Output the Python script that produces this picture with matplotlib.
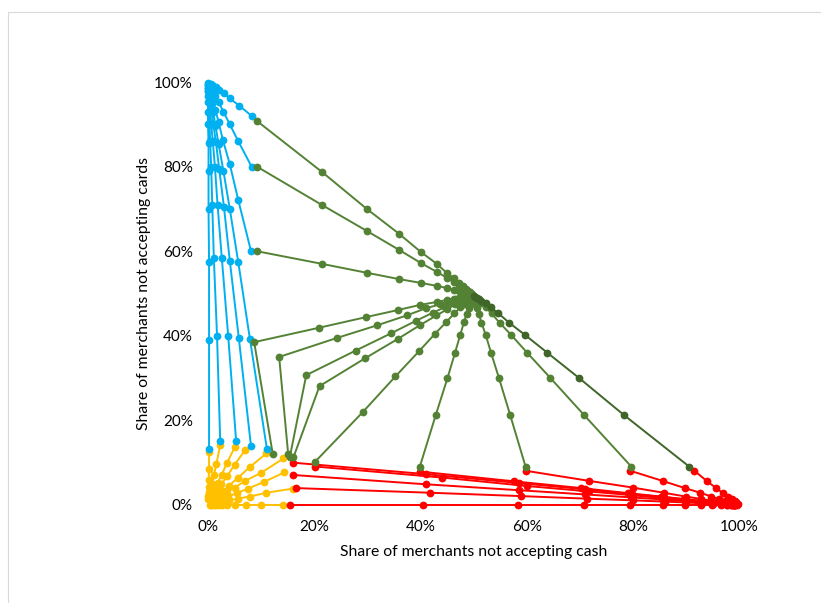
import matplotlib
matplotlib.use("Agg")
import matplotlib.pyplot as plt
from matplotlib.patches import Rectangle
from matplotlib.ticker import PercentFormatter

# ---------------- data: trajectories (x = share not accepting cash, y = share not accepting cards)
blue_paths = [
    [(0.002,0.132),(0.002,0.39),(0.002,0.574),(0.001,0.70),(0.001,0.79),(0.001,0.856),(0.0,0.90),(0.0,0.93),(0.0,0.952),(0.0,0.967),(0.0,0.978),(0.0,0.986),(0.0,0.993),(0.0,0.998)],
    [(0.023,0.151),(0.017,0.40),(0.011,0.584),(0.008,0.71),(0.006,0.80),(0.004,0.86),(0.003,0.90),(0.002,0.93),(0.001,0.952),(0.001,0.967),(0.0,0.978),(0.0,0.986),(0.0,0.993)],
    [(0.053,0.151),(0.038,0.40),(0.026,0.584),(0.018,0.71),(0.013,0.80),(0.009,0.86),(0.006,0.90),(0.004,0.93),(0.003,0.952),(0.002,0.967),(0.001,0.978),(0.001,0.986)],
    [(0.081,0.139),(0.058,0.395),(0.041,0.578),(0.030,0.705),(0.021,0.795),(0.015,0.857),(0.010,0.90),(0.007,0.93),(0.005,0.952),(0.003,0.967),(0.002,0.978),(0.001,0.986)],
    [(0.111,0.132),(0.079,0.392),(0.057,0.574),(0.041,0.70),(0.029,0.79),(0.020,0.853),(0.014,0.897),(0.010,0.928),(0.007,0.95),(0.005,0.965),(0.003,0.976),(0.002,0.984)],
    [(0.081,0.60),(0.057,0.721),(0.041,0.806),(0.028,0.863),(0.020,0.905),(0.014,0.934),(0.010,0.953),(0.007,0.967),(0.005,0.977),(0.003,0.984)],
    [(0.082,0.80),(0.057,0.86),(0.041,0.90),(0.029,0.93),(0.020,0.952),(0.014,0.966),(0.010,0.976),(0.007,0.983),(0.005,0.988)],
    [(0.082,0.92),(0.059,0.944),(0.041,0.961),(0.030,0.973),(0.021,0.981),(0.015,0.987),(0.010,0.991),(0.007,0.994),(0.005,0.996)],
]

yellow_paths = [
    [(0.142,0.0),(0.10,0.0),(0.072,0.0),(0.051,0.0),(0.036,0.0),(0.026,0.0),(0.018,0.0),(0.013,0.0),(0.009,0.0),(0.006,0.0),(0.004,0.0)],
    [(0.161,0.039),(0.11,0.029),(0.079,0.02),(0.056,0.015),(0.04,0.011),(0.028,0.008),(0.02,0.006),(0.014,0.004),(0.01,0.003),(0.007,0.002)],
    [(0.144,0.077),(0.106,0.055),(0.076,0.039),(0.054,0.028),(0.038,0.02),(0.027,0.014),(0.019,0.01),(0.013,0.007),(0.009,0.005)],
    [(0.142,0.11),(0.10,0.076),(0.07,0.057),(0.05,0.041),(0.035,0.029),(0.025,0.021),(0.017,0.015),(0.012,0.01),(0.008,0.007)],
    [(0.11,0.122),(0.079,0.09),(0.056,0.064),(0.04,0.046),(0.028,0.033),(0.02,0.023),(0.014,0.016),(0.01,0.012)],
    [(0.07,0.13),(0.05,0.095),(0.036,0.068),(0.025,0.049),(0.018,0.035),(0.013,0.025),(0.009,0.018)],
    [(0.051,0.138),(0.036,0.10),(0.026,0.072),(0.018,0.052),(0.013,0.037),(0.009,0.026)],
    [(0.023,0.142),(0.016,0.098),(0.011,0.07),(0.008,0.05),(0.006,0.036),(0.004,0.026)],
    [(0.002,0.125),(0.002,0.084),(0.001,0.059),(0.001,0.042),(0.001,0.03),(0.0,0.021),(0.0,0.015)],
]

green_paths = [
    [(0.092,0.908),(0.215,0.787),(0.299,0.70),(0.36,0.641),(0.401,0.598),(0.431,0.57),(0.45,0.548),(0.463,0.537),(0.473,0.525),(0.48,0.517),(0.486,0.511),(0.49,0.507),(0.493,0.503),(0.495,0.5),(0.497,0.498)],
    [(0.092,0.80),(0.215,0.709),(0.299,0.648),(0.36,0.603),(0.401,0.572),(0.431,0.551),(0.45,0.537),(0.463,0.527),(0.473,0.519),(0.48,0.513),(0.486,0.508),(0.49,0.504),(0.493,0.501),(0.495,0.499)],
    [(0.092,0.60),(0.215,0.57),(0.299,0.549),(0.36,0.534),(0.401,0.525),(0.431,0.518),(0.45,0.513),(0.463,0.509),(0.473,0.506),(0.48,0.503),(0.486,0.501),(0.49,0.5),(0.493,0.499),(0.495,0.498)],
    [(0.122,0.12),(0.087,0.385),(0.209,0.419),(0.297,0.444),(0.358,0.461),(0.399,0.473),(0.431,0.48),(0.45,0.485),(0.463,0.488),(0.473,0.49),(0.48,0.492),(0.486,0.493),(0.49,0.494),(0.493,0.495)],
    [(0.151,0.12),(0.134,0.35),(0.243,0.395),(0.319,0.425),(0.374,0.448),(0.41,0.465),(0.436,0.474),(0.455,0.481),(0.467,0.486),(0.476,0.489),(0.483,0.491),(0.487,0.493),(0.491,0.494)],
    [(0.154,0.113),(0.185,0.307),(0.278,0.365),(0.345,0.406),(0.391,0.435),(0.424,0.455),(0.447,0.468),(0.462,0.477),(0.473,0.483),(0.481,0.487),(0.486,0.49),(0.49,0.492),(0.493,0.494)],
    [(0.161,0.113),(0.21,0.281),(0.296,0.347),(0.358,0.393),(0.399,0.425),(0.43,0.448),(0.451,0.463),(0.465,0.474),(0.475,0.481),(0.482,0.486),(0.487,0.489),(0.491,0.491),(0.494,0.493)],
    [(0.2015,0.102),(0.291,0.219),(0.353,0.304),(0.397,0.363),(0.427,0.404),(0.449,0.433),(0.464,0.453),(0.475,0.467),(0.482,0.476),(0.487,0.482),(0.491,0.486),(0.494,0.489),(0.496,0.491)],
    [(0.399,0.091),(0.429,0.213),(0.451,0.30),(0.465,0.359),(0.475,0.402),(0.482,0.432),(0.487,0.452),(0.491,0.466),(0.494,0.476),(0.496,0.482),(0.497,0.486),(0.498,0.489)],
    [(0.598,0.091),(0.569,0.213),(0.548,0.30),(0.533,0.36),(0.523,0.402),(0.515,0.431),(0.51,0.452),(0.506,0.466),(0.503,0.476),(0.501,0.482),(0.5,0.486),(0.499,0.489)],
    [(0.797,0.091),(0.708,0.213),(0.645,0.30),(0.601,0.36),(0.571,0.402),(0.549,0.431),(0.534,0.453),(0.523,0.467),(0.515,0.477),(0.509,0.483),(0.505,0.487),(0.502,0.49),(0.5,0.492)],
]
dark_green_paths = [
    [(0.906,0.091),(0.783,0.213),(0.699,0.30),(0.639,0.36),(0.597,0.402),(0.567,0.431),(0.547,0.453),(0.533,0.467),(0.523,0.477),(0.515,0.483),(0.51,0.487),(0.506,0.49),(0.503,0.492),(0.501,0.494)],
]

red_paths = [
    [(0.154,0.0),(0.405,0.0),(0.583,0.0),(0.708,0.0),(0.795,0.0),(0.856,0.0),(0.898,0.0),(0.928,0.0),(0.95,0.0),(0.967,0.0),(0.978,0.0),(0.986,0.0),(0.992,0.0),(0.996,0.0)],
    [(0.165,0.04),(0.418,0.029),(0.59,0.021),(0.713,0.015),(0.80,0.011),(0.86,0.008),(0.90,0.006),(0.93,0.004),(0.951,0.003),(0.967,0.002),(0.978,0.001),(0.986,0.001),(0.992,0.0)],
    [(0.16,0.071),(0.41,0.049),(0.585,0.035),(0.71,0.025),(0.797,0.018),(0.857,0.013),(0.899,0.009),(0.929,0.006),(0.95,0.005),(0.966,0.003),(0.977,0.002),(0.985,0.001),(0.991,0.001)],
    [(0.161,0.10),(0.41,0.073),(0.585,0.052),(0.71,0.037),(0.797,0.026),(0.857,0.019),(0.899,0.013),(0.929,0.009),(0.95,0.007),(0.966,0.005),(0.977,0.003),(0.985,0.002),(0.991,0.001)],
    [(0.2015,0.091),(0.44,0.065),(0.60,0.045),(0.718,0.032),(0.80,0.023),(0.858,0.016),(0.90,0.011),(0.93,0.008),(0.95,0.006),(0.967,0.004),(0.978,0.003),(0.986,0.002),(0.991,0.001)],
    [(0.399,0.079),(0.576,0.056),(0.703,0.04),(0.791,0.028),(0.853,0.02),(0.897,0.014),(0.928,0.01),(0.95,0.007),(0.965,0.005),(0.977,0.003),(0.985,0.002),(0.991,0.001)],
    [(0.598,0.081),(0.718,0.057),(0.801,0.041),(0.858,0.029),(0.90,0.02),(0.929,0.014),(0.95,0.01),(0.965,0.007),(0.976,0.005),(0.985,0.003),(0.991,0.002)],
    [(0.795,0.081),(0.856,0.057),(0.898,0.04),(0.927,0.029),(0.948,0.02),(0.963,0.014),(0.974,0.01),(0.982,0.007),(0.988,0.005),(0.992,0.003),(0.995,0.002)],
    [(0.916,0.081),(0.939,0.057),(0.957,0.04),(0.97,0.028),(0.98,0.02),(0.987,0.014),(0.992,0.01),(0.995,0.006),(0.998,0.003)],
]

x_ticks = [0, 0.2, 0.4, 0.6, 0.8, 1.0]
y_ticks = [0, 0.2, 0.4, 0.6, 0.8, 1.0]
x_label = "Share of merchants not accepting cash"
y_label = "Share of merchants not accepting cards"

# ---------------- plotting
plt.rcParams['font.family'] = ['Lato', 'DejaVu Sans']
fig = plt.figure(figsize=(8.21, 6.03), dpi=100)
fig.patches.append(Rectangle((8/821, -0.01), 1.0, (603-12)/603 + 0.01, transform=fig.transFigure,
                             fill=False, edgecolor='#D9D9D9', linewidth=0.8))
ax = fig.add_axes([208/821, 98/603, 531/821, 423/603])

def draw(paths, color, z):
    for p in paths:
        xs = [a for a, b in p]
        ys = [b for a, b in p]
        ax.plot(xs, ys, '-o', color=color, lw=1.4, ms=5.6, mec=color, mew=0, zorder=z, clip_on=False)

draw(yellow_paths, '#FFC000', 2)
draw(blue_paths, '#00B0F0', 3)
draw(red_paths, '#FF0000', 4)
draw(green_paths, '#548235', 5)
draw(dark_green_paths, '#3F6628', 5)

ax.set_xlim(0, 1)
ax.set_ylim(0, 1)
ax.set_xticks(x_ticks)
ax.set_yticks(y_ticks)
ax.xaxis.set_major_formatter(PercentFormatter(1.0, decimals=0))
ax.yaxis.set_major_formatter(PercentFormatter(1.0, decimals=0))
for s in ax.spines.values():
    s.set_visible(False)
ax.tick_params(length=0, labelsize=11, colors='#000000')
ax.tick_params(axis='x', pad=11)
ax.tick_params(axis='y', pad=11)
ax.set_xlabel(x_label, fontsize=11.3, labelpad=8)
ax.set_ylabel(y_label, fontsize=11.3, labelpad=2)

fig.savefig("out.png", dpi=100)
